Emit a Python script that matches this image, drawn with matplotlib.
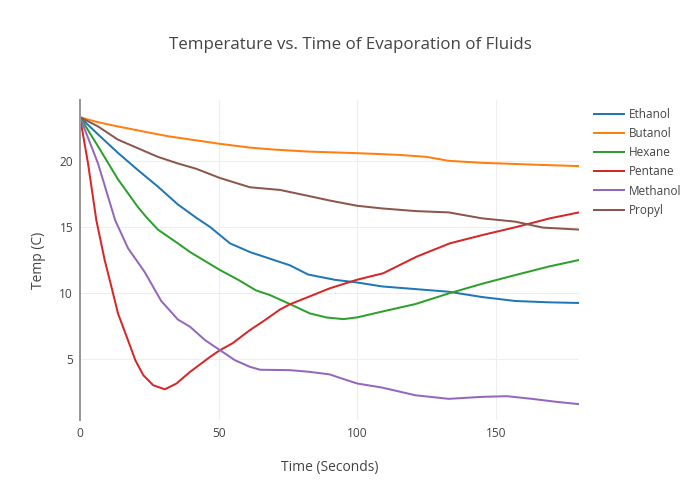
import matplotlib
matplotlib.use("Agg")
import matplotlib.pyplot as plt

plt.rcParams['font.family'] = ['Open Sans', 'DejaVu Sans']

# values (time in s, temp in C)
ethanol_t = [0, 6.5, 13.7, 20.9, 28.1, 35.3, 41.9, 46.9, 54.1, 61.3, 68.5, 75.7, 82.3, 92, 100, 109, 121, 133, 145, 157, 169, 180]
ethanol = [23.3, 22.0, 20.6, 19.3, 18.05, 16.7, 15.7, 15.0, 13.76, 13.1, 12.6, 12.1, 11.4, 11.0, 10.8, 10.5, 10.3, 10.1, 9.7, 9.4, 9.3, 9.25]

butanol_t = [0, 5, 11.3, 23.3, 32, 41.9, 50, 61.3, 70, 82.3, 100, 115, 125, 133, 145, 152, 165, 180]
butanol = [23.3, 23.0, 22.7, 22.2, 21.85, 21.55, 21.3, 21.0, 20.85, 20.7, 20.58, 20.45, 20.3, 20.0, 19.85, 19.8, 19.7, 19.6]

hexane_t = [0, 6.5, 13.7, 20.9, 23.9, 28.1, 35.3, 39.7, 50.5, 57.1, 63.5, 68.5, 75.7, 82.9, 89, 95, 100, 109, 121, 133, 145, 157, 169, 180]
hexane = [23.3, 21.1, 18.6, 16.5, 15.75, 14.8, 13.76, 13.1, 11.74, 11.0, 10.2, 9.85, 9.17, 8.46, 8.15, 8.03, 8.16, 8.6, 9.17, 9.97, 10.7, 11.36, 12.0, 12.5]

pentane_t = [0, 2.9, 5.9, 8.9, 11.3, 13.7, 17.3, 20, 22.8, 26.4, 30.6, 34.8, 39.7, 46.9, 50.5, 55, 61.3, 66, 72.1, 75.7, 82.9, 90, 99.8, 109.4, 121.4, 133.4, 145.4, 157.5, 169.5, 180]
pentane = [23.3, 19.8, 15.5, 12.5, 10.5, 8.46, 6.44, 4.9, 3.8, 3.03, 2.72, 3.16, 4.04, 5.17, 5.68, 6.2, 7.2, 7.85, 8.75, 9.15, 9.75, 10.35, 11.0, 11.5, 12.75, 13.76, 14.4, 15.0, 15.65, 16.1]

methanol_t = [0, 6.5, 12.7, 17.3, 23.3, 29.3, 35.3, 39.7, 45.1, 50.5, 55.9, 61.3, 65, 75.7, 82.9, 90, 95, 100, 109, 121, 133, 145, 154, 163, 172, 180]
methanol = [23.3, 19.8, 15.5, 13.4, 11.6, 9.4, 8.0, 7.45, 6.44, 5.68, 4.92, 4.42, 4.2, 4.17, 4.04, 3.85, 3.5, 3.16, 2.85, 2.27, 2.0, 2.15, 2.2, 2.0, 1.77, 1.6]

propyl_t = [0, 6.5, 13.7, 20.9, 28.1, 35.3, 41.9, 50.5, 61.3, 72.1, 82.3, 90, 100, 109, 121, 133, 145, 157, 167, 180]
propyl = [23.3, 22.6, 21.6, 20.95, 20.3, 19.8, 19.4, 18.7, 18.0, 17.8, 17.35, 17.0, 16.6, 16.4, 16.2, 16.1, 15.65, 15.4, 14.95, 14.8]

series = [
    (ethanol_t, ethanol, "Ethanol", '#1f77b4'),
    (butanol_t, butanol, "Butanol", '#ff7f0e'),
    (hexane_t, hexane, "Hexane", '#2ca02c'),
    (pentane_t, pentane, "Pentane", '#d62728'),
    (methanol_t, methanol, "Methanol", '#9467bd'),
    (propyl_t, propyl, "Propyl", '#8c564b'),
]

fig = plt.figure(figsize=(7, 5), dpi=100)
ax = fig.add_axes([80/700, 80/500, 499/700, 320/500])

for t, v, label, color in series:
    ax.plot(t, v, label=label, color=color, linewidth=1.44)

ax.set_xlim(0, 180)
ax.set_ylim(0.4, 24.6)
ax.set_xticks([0, 50, 100, 150])
ax.set_yticks([5, 10, 15, 20])
ax.grid(color='#eeeeee', linewidth=0.75)
ax.set_axisbelow(True)
for s in ['top', 'right', 'bottom']:
    ax.spines[s].set_visible(False)
ax.spines['left'].set_color('#999999')
ax.spines['left'].set_linewidth(1.44)
ax.tick_params(length=0, labelsize=8.6, labelcolor='#444444', pad=5)

fig.text(350/700, 1 - 45/500, "Temperature vs. Time of Evaporation of Fluids",
         ha='center', va='center', fontsize=12.2, color='#444444')
fig.text(329.5/700, 1 - 467/500, "Time (Seconds)", ha='center', va='center',
         fontsize=10, color='#444444')
fig.text(38/700, 1 - 260/500, "Temp (C)", ha='center', va='center',
         rotation=90, fontsize=10, color='#444444')

fig.legend(loc='upper left', bbox_to_anchor=(594/700, 1 - 108/500), frameon=False,
           fontsize=8.5, labelcolor='#444444', handlelength=2.5, handletextpad=0.45,
           labelspacing=0.52, borderpad=0, borderaxespad=0)

plt.savefig("out.png", dpi=100)
